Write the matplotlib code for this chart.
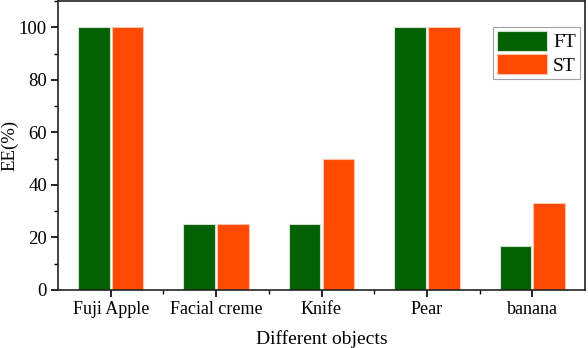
import matplotlib.pyplot as plt
import numpy as np
from matplotlib.ticker import MultipleLocator, FixedLocator

plt.rcParams['font.family'] = ['Liberation Serif', 'DejaVu Serif']
plt.rcParams['font.size'] = 13.5

objects = ["Fuji Apple", "Facial creme", "Knife", "Pear", "banana"]
ft = [100, 25, 25, 100, 16.7]
st = [100, 25, 50, 100, 33.3]

x = np.arange(len(objects))
w = 0.3

fig = plt.figure(figsize=(5.88, 3.48), dpi=100)
ax = fig.add_axes([58 / 588, 58 / 348, 527 / 588, 289 / 348])

ax.bar(x - w / 2 - 0.01, ft, w, color="#036003", edgecolor="#cfe0cf", linewidth=0.8, label="FT")
ax.bar(x + w / 2 + 0.01, st, w, color="#ff4a00", edgecolor="#ffc0a8", linewidth=0.8, label="ST")

ax.set_xlim(-0.5, 4.5)
ax.set_ylim(0, 110)
ax.set_xticks(x)
ax.set_xticklabels(objects, fontsize=13)
ax.xaxis.set_minor_locator(FixedLocator(x[:-1] + 0.5))
ax.yaxis.set_major_locator(MultipleLocator(20))
ax.yaxis.set_minor_locator(MultipleLocator(10))
ax.tick_params(axis="y", labelsize=13.5)
ax.tick_params(which="major", direction="out", length=5, width=1.2, top=False, right=False, pad=3)
ax.tick_params(which="minor", direction="out", length=3, width=1.0, top=False, right=False)
for s in ax.spines.values():
    s.set_linewidth(1.2)
    s.set_color("#222222")

ax.set_xlabel("Different objects", fontsize=14, labelpad=9)
ax.set_ylabel("EE(%)", fontsize=13.5)
ax.yaxis.set_label_coords(-40 / 527, 0.5)

leg = ax.legend(loc="upper right", bbox_to_anchor=(0.99, 0.91), fancybox=False,
                edgecolor="#888888", handlelength=2.6, handleheight=1.2,
                handletextpad=0.3, borderpad=0.2, labelspacing=0.15, borderaxespad=0.0,
                fontsize=14)
leg.get_frame().set_linewidth(0.8)

fig.savefig("out.png", dpi=100)
